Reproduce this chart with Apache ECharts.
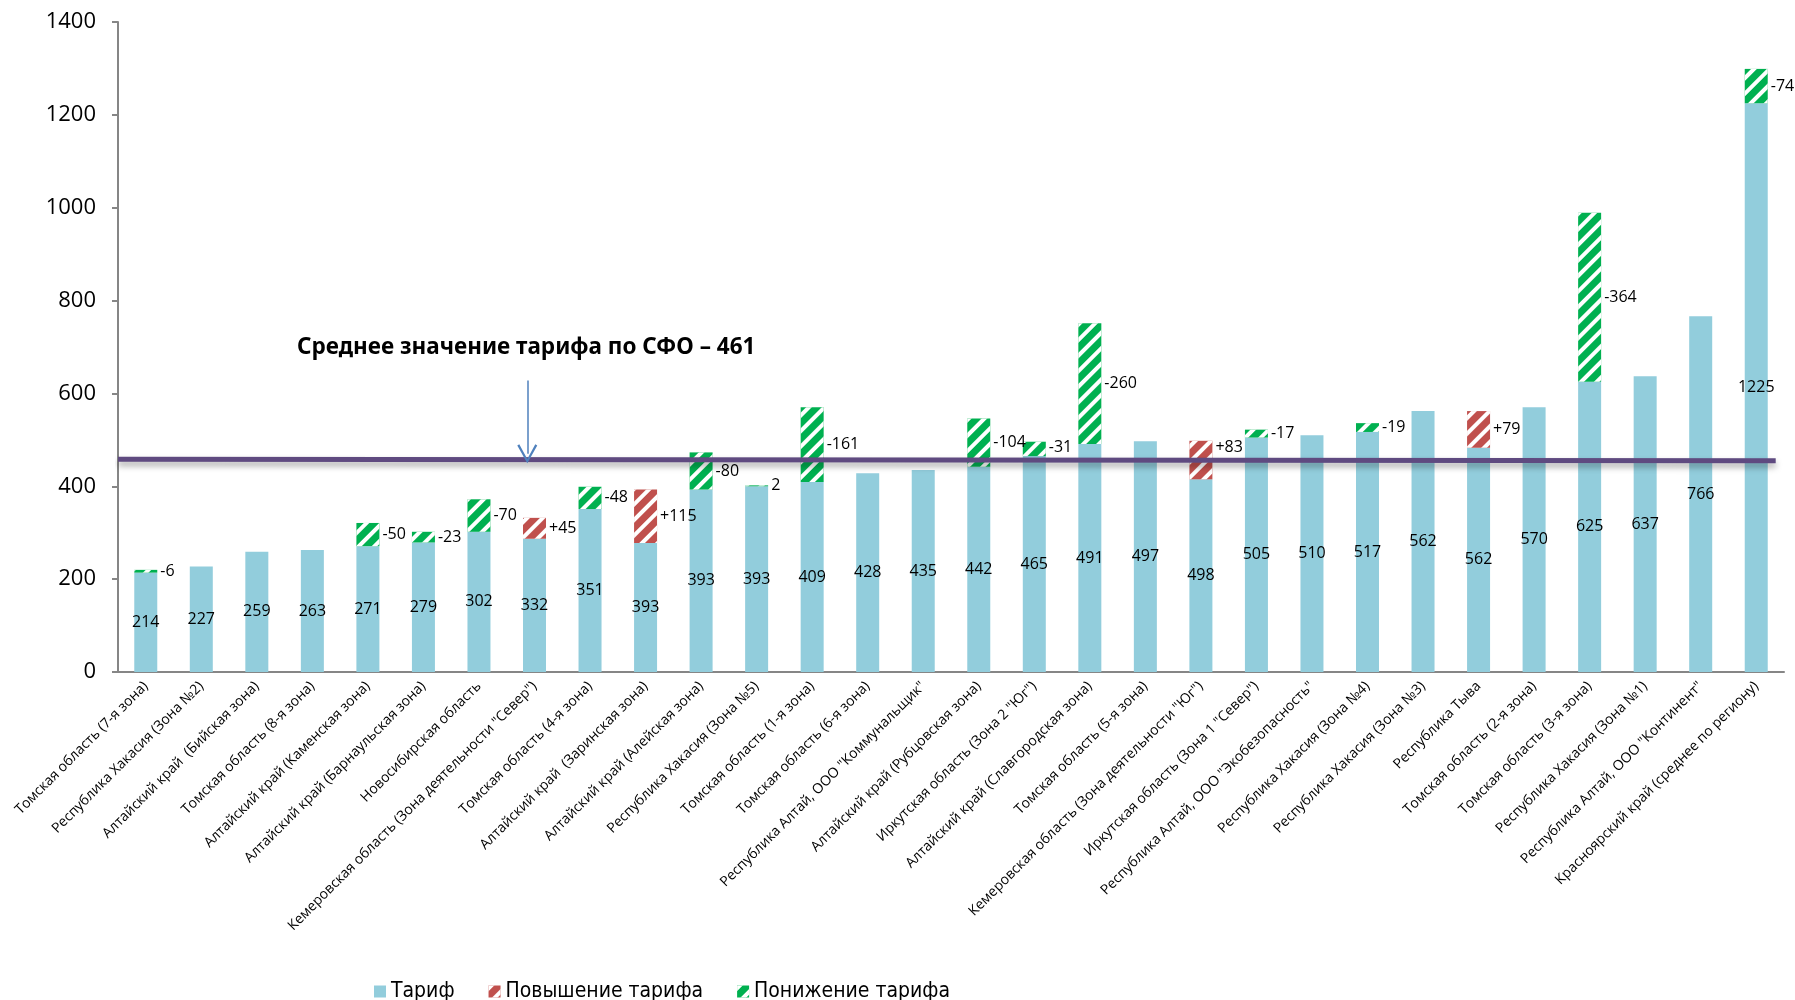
<!DOCTYPE html>
<html>
<head>
<meta charset="utf-8">
<script src="https://cdn.jsdelivr.net/npm/echarts@6/dist/echarts.min.js"></script>
<style>
html,body{margin:0;padding:0;background:#fff;}
#chart{width:1795px;height:1000px;}
</style>
</head>
<body>
<div id="chart"></div>
<script>
const categories = [
  'Томская область (7-я зона)',
  'Республика Хакасия (Зона №2)',
  'Алтайский край  (Бийская зона)',
  'Томская область (8-я зона)',
  'Алтайский край (Каменская зона)',
  'Алтайский край (Барнаульская зона)',
  'Новосибирская область',
  'Кемеровская область (Зона деятельности "Север")',
  'Томская область (4-я зона)',
  'Алтайский край  (Заринская зона)',
  'Алтайский край (Алейская зона)',
  'Республика Хакасия (Зона №5)',
  'Томская область (1-я зона)',
  'Томская область (6-я зона)',
  'Республика Алтай, ООО "Коммунальщик"',
  'Алтайский край (Рубцовская зона)',
  'Иркутская область (Зона 2 "Юг")',
  'Алтайский край (Славгородская зона)',
  'Томская область (5-я зона)',
  'Кемеровская область (Зона деятельности "Юг")',
  'Иркутская область (Зона 1 "Север")',
  'Республика Алтай, ООО "Экобезопасность"',
  'Республика Хакасия (Зона №4)',
  'Республика Хакасия (Зона №3)',
  'Республика Тыва',
  'Томская область (2-я зона)',
  'Томская область (3-я зона)',
  'Республика Хакасия (Зона №1)',
  'Республика Алтай, ООО "Континент"',
  'Красноярский край (среднее по региону)'
];
// tariff label values as printed
const tariffLabels = [214,227,259,263,271,279,302,332,351,393,393,393,409,428,435,442,465,491,497,498,505,510,517,562,562,570,625,637,766,1225];
// blue bar heights as drawn
const tariffBars = [214,227,259,263,271,279,302,287,351,278,393,400,409,428,435,442,465,491,497,415,505,510,517,562,483,570,625,637,766,1225];
const increase = [null,null,null,null,null,null,null,45,null,115,null,null,null,null,null,null,null,null,null,83,null,null,null,null,79,null,null,null,null,null];
const decrease = [6,null,null,null,50,23,70,null,48,null,80,2,161,null,null,104,31,260,null,null,17,null,19,null,null,null,364,null,null,74];
const decreaseLabels = ['-6','','','','-50','-23','-70','','-48','','-80','2','-161','','','-104','-31','-260','','','-17','','-19','','','','-364','','','-74'];
const meanLine = [[0, 458], [29.85, 455]];
const arrowPts = [[7.37, 628], [7.37, 470]];
const meanTitle = 'Среднее значение тарифа по СФО – 461';

const chart = echarts.init(document.getElementById('chart'));
const FONT = '"Open Sans", "Noto Sans", sans-serif';
const stripe = () => ({
  symbol: 'rect', symbolSize: 1, dashArrayX: [1, 0], dashArrayY: [4, 7],
  rotation: -Math.PI / 4, color: '#ffffff'
});
// keep labels clear of the mean line
const avoidLine = (alwaysUp) => function (params) {
  const r = params.labelRect;
  const yLine = chart.convertToPixel({yAxisIndex: 0}, meanLine[0][1]);
  const gap = 4;
  if (r.y < yLine + gap && r.y + r.height > yLine - gap) {
    const cy = r.y + r.height / 2;
    if (alwaysUp || cy < yLine) return {dy: (yLine - gap) - (r.y + r.height)};
    return {dy: (yLine + gap) - r.y};
  }
  return {};
};
chart.setOption({
  animation: false,
  backgroundColor: '#ffffff',
  title: {
    text: meanTitle, left: 292, top: 331,
    textStyle: {fontFamily: '"Noto Sans", sans-serif', fontWeight: 'bold', fontSize: 22.5, color: '#000'}
  },
  legend: {
    top: 976, left: 369, itemGap: 34, itemWidth: 12, itemHeight: 12,
    textStyle: {fontFamily: '"Liberation Sans Narrow", "DejaVu Sans Condensed", "Noto Sans", sans-serif', fontSize: 21, color: '#000'},
    data: [
      {name: 'Тариф', icon: 'rect'},
      {name: 'Повышение тарифа', icon: 'rect'},
      {name: 'Понижение тарифа', icon: 'rect'}
    ]
  },
  grid: {left: 118, right: 11, top: 22, height: 650},
  xAxis: [{
    type: 'category', data: categories,
    axisLine: {lineStyle: {color: '#868686', width: 2}},
    axisTick: {length: 6, lineStyle: {color: '#868686', width: 2}},
    axisLabel: {rotate: 45, interval: 0, fontSize: 14, color: '#000', fontFamily: FONT, margin: 12}
  }, {
    type: 'value', min: 0, max: 30, show: false
  }],
  yAxis: {
    type: 'value', min: 0, max: 1400, interval: 200,
    axisLine: {show: true, lineStyle: {color: '#868686', width: 2}},
    axisTick: {show: true, length: 6, lineStyle: {color: '#868686', width: 2}},
    splitLine: {show: false},
    axisLabel: {fontSize: 22, color: '#000', fontFamily: FONT, margin: 22, formatter: v => String(v)}
  },
  series: [
    {
      name: 'Тариф', type: 'bar', stack: 't', data: tariffBars, barWidth: 23,
      itemStyle: {color: '#92CDDC'},
      label: {show: true, position: 'inside', color: '#000', fontSize: 16, fontFamily: FONT,
        formatter: p => String(tariffLabels[p.dataIndex])}
    },
    {
      name: 'Повышение тарифа', type: 'bar', stack: 't', data: increase, barWidth: 23,
      itemStyle: {color: '#C0504D', decal: stripe()},
      label: {show: true, position: 'right', distance: 3, color: '#000', fontSize: 16, fontFamily: FONT,
        formatter: p => p.value == null ? '' : '+' + p.value},
      labelLayout: avoidLine(true)
    },
    {
      name: 'Понижение тарифа', type: 'bar', stack: 't', data: decrease, barWidth: 23,
      itemStyle: {color: '#00B050', decal: stripe()},
      label: {show: true, position: 'right', distance: 3, color: '#000', fontSize: 16, fontFamily: FONT,
        formatter: p => decreaseLabels[p.dataIndex]},
      labelLayout: avoidLine(false)
    },
    {
      name: 'mean', type: 'line', xAxisIndex: 1, data: meanLine, symbol: 'none', silent: true,
      lineStyle: {color: '#5F4A80', width: 5, shadowColor: 'rgba(0,0,0,0.35)', shadowBlur: 6, shadowOffsetY: 4},
      markLine: {
        silent: true, symbol: ['none', 'path://M5,0 L10,9 L9,9.6 L5,2.2 L1,9.6 L0,9 Z'], symbolSize: [20, 19],
        lineStyle: {color: '#4F81BD', width: 1.5, type: 'solid'}, label: {show: false},
        data: [[{coord: arrowPts[0]}, {coord: arrowPts[1]}]]
      }
    }
  ]
});
</script>
</body>
</html>
